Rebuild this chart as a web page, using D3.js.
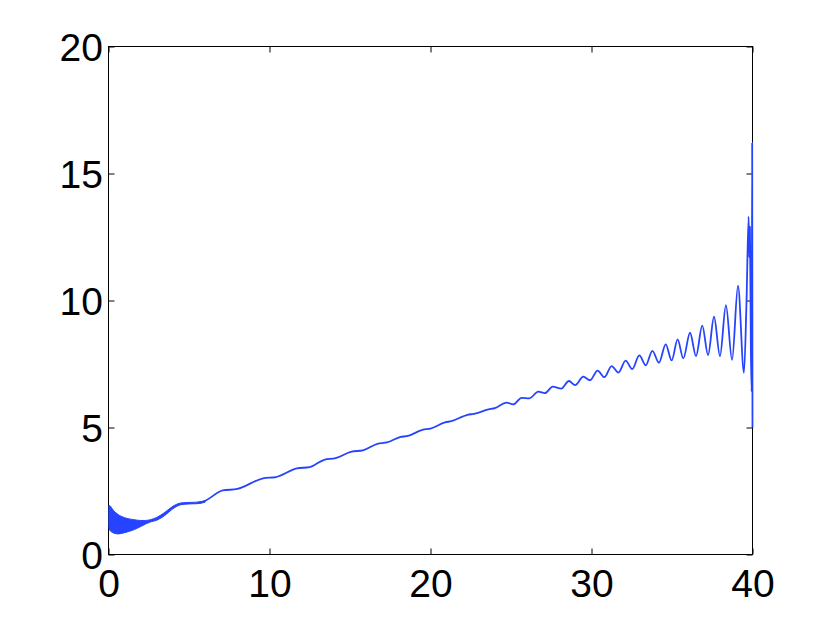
<!DOCTYPE html>
<html>
<head>
<meta charset="utf-8">
<script src="https://cdn.jsdelivr.net/npm/d3@7"></script>
<style>
  html, body { margin: 0; padding: 0; background: #fff; }
  svg { display: block; }
  text { font-family: "Liberation Sans", Arial, Helvetica, sans-serif; }
</style>
</head>
<body>
<svg id="chart" width="830" height="624"></svg>
<script>
// ---- data ----
const xTicks = [0, 10, 20, 30, 40];
const yTicks = [0, 5, 10, 15, 20];

// dense fast-oscillation band near the start (upper / lower envelopes)
const bandX     = [0, 0.05, 0.3, 0.6, 1.0, 1.6, 2.0, 2.3, 2.6, 3.0, 3.5, 4.0, 4.5, 5.0, 5.5, 6.0];
const bandUpper = [1.92, 1.93, 1.74, 1.57, 1.45, 1.37, 1.34, 1.34, 1.37, 1.46, 1.66, 1.90, 2.03, 2.05, 2.06, 2.12];
const bandLower = [1.10, 0.98, 0.85, 0.81, 0.86, 0.98, 1.10, 1.20, 1.28, 1.35, 1.54, 1.80, 1.96, 1.99, 2.00, 2.06];

// main curve
const curveX = [5.5, 5.8, 7.1, 8.0, 9.6, 10.4, 11.7, 12.5, 13.4, 14.1, 15.1, 15.8, 16.7, 17.3, 18.1, 18.6,
  19.5, 20.0, 20.9, 21.3, 22.3, 22.7, 23.6, 24.0, 24.73, 25.14, 25.66, 26.14, 26.70, 27.11, 27.59, 28.12,
  28.60, 28.98, 29.49, 29.91, 30.38, 30.80, 31.25, 31.67, 32.12, 32.53, 32.97, 33.37, 33.78, 34.19, 34.61, 34.98,
  35.35, 35.70, 36.12, 36.49, 36.88, 37.24, 37.61, 37.98, 38.35, 38.73, 39.10, 39.47, 39.63, 39.76, 39.80, 39.84,
  39.90, 39.95, 39.98, 40.0];
const curveY = [2.03, 2.06, 2.52, 2.58, 3.00, 3.05, 3.39, 3.44, 3.73, 3.79, 4.05, 4.10, 4.36, 4.41, 4.62, 4.67,
  4.91, 4.96, 5.20, 5.25, 5.50, 5.54, 5.71, 5.76, 5.98, 5.91, 6.17, 6.15, 6.41, 6.35, 6.61, 6.53,
  6.83, 6.67, 7.00, 6.86, 7.24, 6.98, 7.42, 7.16, 7.63, 7.30, 7.84, 7.45, 8.02, 7.55, 8.27, 7.64,
  8.47, 7.72, 8.73, 7.81, 9.01, 7.85, 9.36, 7.81, 9.82, 7.66, 10.58, 7.15, 10.0, 13.3, 11.7, 12.9,
  8.0, 6.4, 16.2, 5.0];

// ---- layout ----
const W = 830, H = 624;
const m = { left: 108.5, top: 46.5, right: 830 - 752.5, bottom: 624 - 554.5 };
const iw = W - m.left - m.right, ih = H - m.top - m.bottom;
const blue = "#2644ff";

const svg = d3.select("#chart");
const g = svg.append("g").attr("transform", `translate(${m.left},${m.top})`);

const xs = d3.scaleLinear().domain([0, 40]).range([0, iw]);
const ys = d3.scaleLinear().domain([0, 20]).range([ih, 0]);

// axes (ticks inward, MATLAB style)
const tk = 6;
const fs = 39;
const axB = g.append("g").attr("transform", `translate(0,${ih})`)
  .call(d3.axisBottom(xs).tickValues(xTicks).tickFormat(d3.format("d")).tickSize(-tk).tickPadding(0));
axB.select(".domain").remove();
axB.selectAll("text").attr("dy", null).attr("y", 42.5).attr("font-size", fs).attr("fill", "#000");

const axL = g.append("g")
  .call(d3.axisLeft(ys).tickValues(yTicks).tickFormat(d3.format("d")).tickSize(-tk).tickPadding(0));
axL.select(".domain").remove();
axL.selectAll("text").attr("dy", null).attr("x", -5.5).attr("y", 14).attr("font-size", fs).attr("fill", "#000");

const axT = g.append("g")
  .call(d3.axisTop(xs).tickValues(xTicks).tickFormat("").tickSize(-tk));
axT.select(".domain").remove();

const axR = g.append("g").attr("transform", `translate(${iw},0)`)
  .call(d3.axisRight(ys).tickValues(yTicks).tickFormat("").tickSize(-tk));
axR.select(".domain").remove();

g.selectAll(".tick line").attr("stroke", "#000").attr("stroke-width", 1);

// box
g.append("rect").attr("x", 0).attr("y", 0).attr("width", iw).attr("height", ih)
  .attr("fill", "none").attr("stroke", "#000").attr("stroke-width", 1);

// data drawn on top of the box
g.append("clipPath").attr("id", "clip")
  .append("rect").attr("x", 0).attr("y", 0).attr("width", iw + 2).attr("height", ih);

const plot = g.append("g").attr("clip-path", "url(#clip)");

const bandData = bandX.map((d, i) => ({ x: d, hi: bandUpper[i], lo: bandLower[i] }));
plot.append("path")
  .datum(bandData)
  .attr("d", d3.area().x(d => xs(d.x)).y0(d => ys(d.lo)).y1(d => ys(d.hi)).curve(d3.curveMonotoneX))
  .attr("fill", blue).attr("stroke", blue).attr("stroke-width", 1).attr("stroke-linejoin", "round");

const lineData = curveX.map((d, i) => ({ x: d, y: curveY[i] }));
plot.append("path")
  .datum(lineData)
  .attr("d", d3.line().x(d => xs(d.x)).y(d => ys(d.y)).curve(d3.curveMonotoneX))
  .attr("fill", "none").attr("stroke", blue).attr("stroke-width", 1.8).attr("stroke-linejoin", "round");
</script>
</body>
</html>
